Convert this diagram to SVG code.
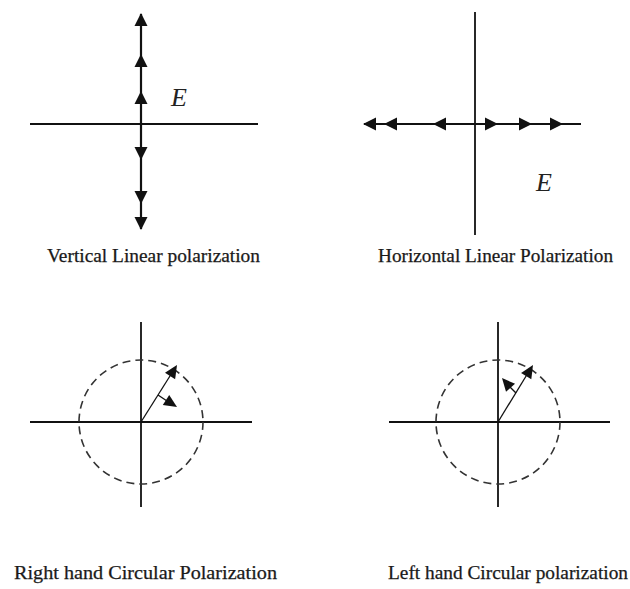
<svg xmlns="http://www.w3.org/2000/svg" width="630" height="589" viewBox="0 0 630 589">
<style>
.axis{stroke:#111;stroke-width:1.8;fill:none}
.vec{stroke:#111;stroke-width:1.3;fill:none}
.circ{stroke:#333;stroke-width:1.6;fill:none;stroke-dasharray:8 5}
.lbl{font-family:"Liberation Serif","Times New Roman",serif;font-size:18px;fill:#1a1a1a;stroke:#1a1a1a;stroke-width:0.25}
.e{font-family:"Liberation Serif","Times New Roman",serif;font-size:26px;font-style:italic;fill:#222}
.ah{fill:#111}
</style>
<defs>
<path id="ah" class="ah" d="M0,0 L-13,-6.5 L-13,6.5 Z"/>
<path id="ahs" class="ah" d="M0,0 L-13,-6 L-13,6 Z"/>
</defs>
<rect width="630" height="589" fill="#fff"/>
<g id="vertical-linear">
<line class="axis" x1="30" y1="124" x2="258" y2="124"/>
<line class="axis" x1="141" y1="14" x2="141" y2="229" style="stroke-width:2.2"/>
<use href="#ah" transform="translate(141,13) rotate(-90)"/>
<use href="#ah" transform="translate(141,54) rotate(-90)"/>
<use href="#ah" transform="translate(141,91) rotate(-90)"/>
<use href="#ah" transform="translate(141,160) rotate(90)"/>
<use href="#ah" transform="translate(141,204) rotate(90)"/>
<use href="#ah" transform="translate(141,230) rotate(90)"/>
<text class="e" x="171" y="106">E</text>
<text class="lbl" x="47" y="262" textLength="213" lengthAdjust="spacingAndGlyphs">Vertical Linear polarization</text>
</g>
<g id="horizontal-linear">
<line class="axis" x1="475" y1="12" x2="475" y2="235"/>
<line class="axis" x1="364" y1="124" x2="581" y2="124" style="stroke-width:2.2"/>
<use href="#ah" transform="translate(363,124) rotate(180)"/>
<use href="#ah" transform="translate(384,124) rotate(180)"/>
<use href="#ah" transform="translate(433,124) rotate(180)"/>
<use href="#ah" transform="translate(498,124)"/>
<use href="#ah" transform="translate(532,124)"/>
<use href="#ah" transform="translate(563,124)"/>
<text class="e" x="536" y="191">E</text>
<text class="lbl" x="378" y="262" textLength="235" lengthAdjust="spacingAndGlyphs">Horizontal Linear Polarization</text>
</g>
<g id="right-hand-circular">
<line class="axis" x1="30" y1="422" x2="252" y2="422"/>
<line class="axis" x1="141" y1="322" x2="141" y2="507"/>
<circle class="circ" cx="141" cy="422" r="62"/>
<line class="vec" x1="141" y1="422" x2="175" y2="368"/>
<use href="#ahs" transform="translate(177,365) rotate(-57.7)"/>
<line class="vec" x1="158" y1="395" x2="170" y2="403"/>
<use href="#ahs" transform="translate(177,407) rotate(32.3)"/>
<text class="lbl" x="14" y="579" textLength="263" lengthAdjust="spacingAndGlyphs">Right hand Circular Polarization</text>
</g>
<g id="left-hand-circular">
<line class="axis" x1="389" y1="422" x2="610" y2="422"/>
<line class="axis" x1="498" y1="322" x2="498" y2="507"/>
<circle class="circ" cx="498" cy="422" r="62"/>
<line class="vec" x1="498" y1="422" x2="531" y2="368"/>
<use href="#ahs" transform="translate(533,365) rotate(-58.5)"/>
<line class="vec" x1="516" y1="393" x2="508" y2="385"/>
<use href="#ahs" transform="translate(502,378) rotate(-131)"/>
<text class="lbl" x="388" y="579" textLength="240" lengthAdjust="spacingAndGlyphs">Left hand Circular polarization</text>
</g>
</svg>
